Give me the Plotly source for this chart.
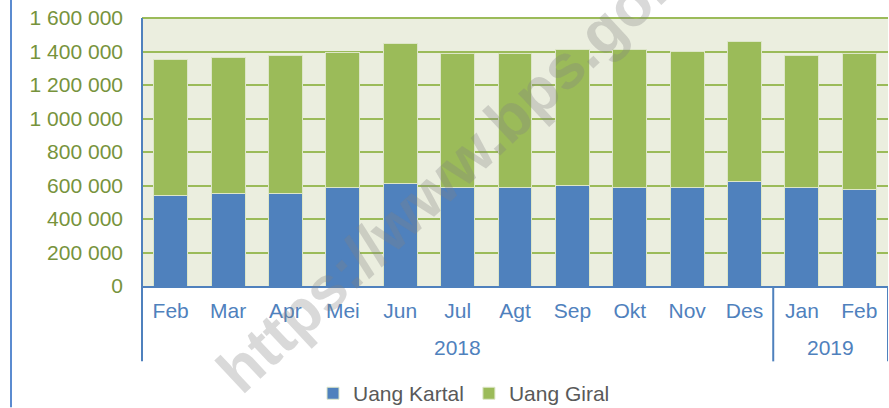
import plotly.graph_objects as go

years = ["2018"] * 11 + ["2019"] * 2
months = ["Feb", "Mar", "Apr", "Mei", "Jun", "Jul", "Agt", "Sep", "Okt", "Nov", "Des", "Jan", "Feb"]
kartal = [540000, 552000, 552000, 588000, 612000, 588000, 588000, 600000, 588000, 588000, 624000, 588000, 576000]
total = [1352000, 1364000, 1374000, 1397000, 1445000, 1386000, 1386000, 1412000, 1412000, 1400000, 1460000, 1376000, 1388000]
giral = [t - k for t, k in zip(total, kartal)]

BLUE = "#4F81BD"
GREEN = "#9BBB59"
FONT = "Liberation Sans, Arial, sans-serif"

W, H = 889, 408
ML, MR, MT, MB = 142, 1, 18, 121.5
PW = W - ML - MR
PH = H - MT - MB

idx = list(range(len(months)))

fig = go.Figure()
fig.add_trace(go.Bar(x=idx, y=kartal, name="Uang Kartal",
                     marker=dict(color=BLUE, line=dict(color="#DDE6C8", width=1))))
fig.add_trace(go.Bar(x=idx, y=giral, name="Uang Giral",
                     marker=dict(color=GREEN, line=dict(color="#DDE6C8", width=1))))

fig.update_layout(
    barmode="stack",
    bargap=0.41,
    width=W, height=H,
    margin=dict(l=ML, r=MR, t=MT, b=MB, autoexpand=False),
    paper_bgcolor="white",
    plot_bgcolor="#EBEEDF",
    separators=", ",
    font=dict(family=FONT, size=21),
    legend=dict(orientation="h", x=(464 - ML) / PW, xanchor="center", y=-0.325, yanchor="top",
                font=dict(size=21, color="#595959"), itemwidth=30, traceorder="normal"),
    showlegend=True,
)
fig.update_yaxes(range=[0, 1600000], dtick=200000, tickformat=",d", automargin=False,
                 gridcolor=GREEN, gridwidth=2, showline=False, zeroline=False,
                 tickfont=dict(color="#77933C", size=21), ticklabelstandoff=18)
fig.update_xaxes(range=[-0.5, len(months) - 0.5], tickvals=idx, ticktext=months,
                 automargin=False, showline=True, linecolor=BLUE, linewidth=2,
                 tickfont=dict(color=BLUE, size=21), ticks="", showgrid=False,
                 zeroline=False, ticklabelstandoff=5)

# top border of plot area and left axis line (extends down through category area)
div_bottom = -(362 - (H - MB)) / PH
fig.add_shape(type="line", xref="paper", yref="paper", x0=0, x1=1, y0=1, y1=1,
              line=dict(color=GREEN, width=2))
fig.add_shape(type="line", xref="paper", yref="paper", x0=0, x1=0, y0=div_bottom, y1=1,
              line=dict(color=BLUE, width=2))

# year group dividers and labels
groups = []
for i, yv in enumerate(years):
    if not groups or groups[-1][0] != yv:
        groups.append([yv, i, i])
    else:
        groups[-1][2] = i
for yv, a, b in groups:
    fig.add_shape(type="line", xref="x", yref="paper", x0=b + 0.5, x1=b + 0.5,
                  y0=div_bottom, y1=0, line=dict(color=BLUE, width=2))
    fig.add_annotation(text=yv, xref="x", yref="paper", x=(a + b) / 2,
                       y=-(348 - (H - MB)) / PH, showarrow=False, yanchor="middle",
                       font=dict(color=BLUE, size=21))

# outer chart border on the left
xo = (11 - ML) / PW
fig.add_shape(type="line", xref="paper", yref="paper", x0=xo, x1=xo,
              y0=-MB / PH, y1=1 + MT / PH, line=dict(color="#5B8BD0", width=2))

# watermark
fig.add_annotation(text="https://www.bps.go.id", xref="paper", yref="paper",
                   x=(462 - ML) / PW, y=((H - MB) - 162) / PH, showarrow=False,
                   textangle=-43,
                   font=dict(family="Liberation Sans, Arial, sans-serif", size=62,
                             color="rgba(128,128,128,0.30)", weight="bold"))

fig.write_html("out.html", post_script="document.body.style.margin='0px';",
               config={"displayModeBar": False})
